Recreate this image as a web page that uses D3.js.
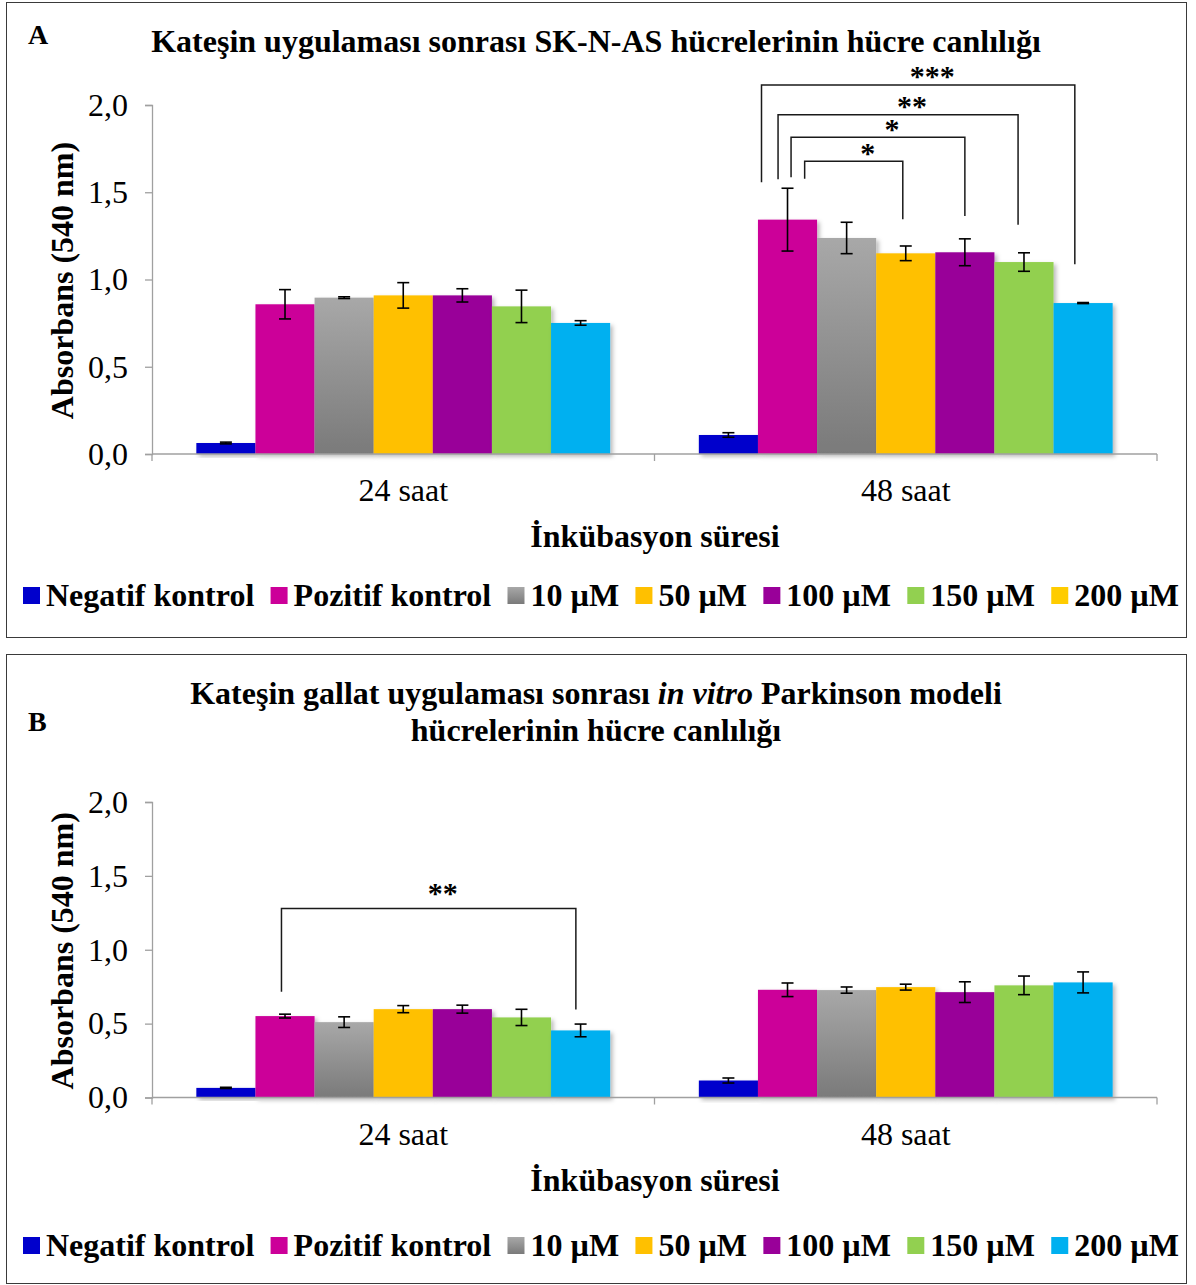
<!DOCTYPE html>
<html>
<head>
<meta charset="utf-8">
<script src="https://cdn.jsdelivr.net/npm/d3@7"></script>
<style>
  html, body { margin: 0; padding: 0; background: #fff; }
  svg { display: block; }
  text { font-family: "Liberation Serif", "Tinos", "Times New Roman", "DejaVu Serif", serif; fill: #000; }
</style>
</head>
<body>
<svg id="chart" width="1196" height="1285"></svg>
<script>
// ---- data ----
const groups = ["24 saat", "48 saat"];
const seriesNames = ["Negatif kontrol", "Pozitif kontrol", "10 µM", "50 µM", "100 µM", "150 µM", "200 µM"];
const seriesColors = ["#0000CC", "#CC0099", "url(#grayFill)", "#FFC000", "#990099", "#92D050", "#00B0F0"];
// panel A legend uses a yellow swatch for the last entry
const legendColorsA = ["#0000CC", "#CC0099", "url(#grayFill)", "#FFC000", "#990099", "#92D050", "#FFCC00"];
const legendColorsB = seriesColors;
const yTickValues = [0, 0.5, 1.0, 1.5, 2.0];
const yTickLabels = ["0,0", "0,5", "1,0", "1,5", "2,0"];

// absorbance means and error (per group, per series)
const meansA = [
  [0.063, 0.858, 0.896, 0.909, 0.909, 0.846, 0.751],
  [0.109, 1.343, 1.238, 1.150, 1.156, 1.100, 0.865]
];
const errA = [
  [0.005, 0.084, 0.005, 0.073, 0.038, 0.093, 0.013],
  [0.013, 0.180, 0.090, 0.042, 0.077, 0.053, 0.003]
];
const meansB = [
  [0.065, 0.551, 0.510, 0.598, 0.598, 0.542, 0.454],
  [0.115, 0.729, 0.727, 0.747, 0.713, 0.759, 0.779]
];
const errB = [
  [0.004, 0.013, 0.036, 0.024, 0.027, 0.055, 0.043],
  [0.017, 0.046, 0.021, 0.020, 0.070, 0.063, 0.071]
];

// significance brackets: group, series at each end (with offset inside the bar),
// level of the horizontal line and where each leg stops (data units)
const bracketsA = [
  { group: 1, from: 1, fromAt: 0.06, to: 6, toAt: 0.36, level: 2.115, fromDrop: 1.557, toDrop: 1.087, label: "***" },
  { group: 1, from: 1, fromAt: 0.34, to: 5, toAt: 0.40, level: 1.944, fromDrop: 1.574, toDrop: 1.314, label: "**" },
  { group: 1, from: 1, fromAt: 0.56, to: 4, toAt: 0.50, level: 1.815, fromDrop: 1.586, toDrop: 1.364, label: "*" },
  { group: 1, from: 1, fromAt: 0.79, to: 3, toAt: 0.45, level: 1.677, fromDrop: 1.578, toDrop: 1.345, label: "*" }
];
const bracketsB = [
  { group: 0, from: 1, fromAt: 0.44, to: 6, toAt: 0.42, level: 1.280, fromDrop: 0.716, toDrop: 0.596, label: "**" }
];

// ---- drawing ----
const svg = d3.select("#chart");
const defs = svg.append("defs");
const grad = defs.append("linearGradient").attr("id", "grayFill")
  .attr("x1", 0).attr("y1", 0).attr("x2", 0).attr("y2", 1);
grad.append("stop").attr("offset", "0%").attr("stop-color", "#A8A8A8");
grad.append("stop").attr("offset", "100%").attr("stop-color", "#7A7A7A");
const shadow = defs.append("filter").attr("id", "barShadow")
  .attr("x", "-20%").attr("y", "-20%").attr("width", "150%").attr("height", "150%");
shadow.append("feDropShadow").attr("dx", 2.5).attr("dy", 2.5)
  .attr("stdDeviation", 2).attr("flood-color", "#000").attr("flood-opacity", 0.28);

const FS = 32;
const STAR_FS = 30;
const axisColor = "#A0A0A0";

function drawPanel(cfg) {
  const g = svg.append("g");

  // frame
  g.append("rect")
    .attr("x", cfg.frame[0] + 0.5).attr("y", cfg.frame[1] + 0.5)
    .attr("width", cfg.frame[2]).attr("height", cfg.frame[3])
    .attr("fill", "none").attr("stroke", "#3A3A3A").attr("stroke-width", 1);

  // panel letter
  g.append("text").attr("x", 28).attr("y", cfg.letterY)
    .attr("font-size", 28).attr("font-weight", "bold").text(cfg.letter);

  // title lines
  cfg.titleLines.forEach((parts, i) => {
    const t = g.append("text").attr("x", 596).attr("y", cfg.titleY + i * 37)
      .attr("text-anchor", "middle").attr("font-size", FS).attr("font-weight", "bold");
    parts.forEach(p => {
      const s = t.append("tspan").text(p.text);
      if (p.italic) s.attr("font-style", "italic");
    });
  });

  const x0 = d3.scaleBand().domain(groups).range([152, 1157]).padding(0);
  const x1 = d3.scaleBand().domain(d3.range(seriesNames.length))
    .range([0, x0.bandwidth()]).paddingInner(0).paddingOuter(0.75);
  const y = d3.scaleLinear().domain([0, 2]).range([cfg.y0, cfg.y1]);

  // y axis
  const yAxis = g.append("g").attr("transform", "translate(152,0)")
    .call(d3.axisLeft(y).tickValues(yTickValues).tickSize(7).tickPadding(17)
      .tickFormat((d, i) => yTickLabels[i]));
  yAxis.attr("font-family", null);
  yAxis.select(".domain").attr("stroke", axisColor).attr("stroke-width", 1.3);
  yAxis.selectAll(".tick line").attr("stroke", axisColor).attr("stroke-width", 1.3);
  yAxis.selectAll(".tick text").attr("font-size", FS).attr("fill", "#000");

  // bars
  groups.forEach((grp, gi) => {
    const gg = g.append("g").attr("transform", `translate(${x0(grp)},0)`);
    gg.selectAll("rect.bar").data(cfg.means[gi]).join("rect")
      .attr("class", "bar")
      .attr("x", (d, i) => x1(i))
      .attr("width", x1.bandwidth())
      .attr("y", d => y(d))
      .attr("height", d => y(0) - y(d))
      .attr("fill", (d, i) => seriesColors[i])
      .attr("filter", "url(#barShadow)");

    // error bars
    const eb = gg.selectAll("g.err").data(cfg.means[gi].map((m, i) => ({ m, e: cfg.errs[gi][i], i })))
      .join("g").attr("class", "err")
      .attr("stroke", "#000").attr("stroke-width", 1.6);
    eb.append("line")
      .attr("x1", d => x1(d.i) + x1.bandwidth() / 2).attr("x2", d => x1(d.i) + x1.bandwidth() / 2)
      .attr("y1", d => y(d.m + d.e)).attr("y2", d => y(d.m - d.e));
    [1, -1].forEach(sgn => {
      eb.append("line")
        .attr("x1", d => x1(d.i) + x1.bandwidth() / 2 - 6).attr("x2", d => x1(d.i) + x1.bandwidth() / 2 + 6)
        .attr("y1", d => y(d.m + sgn * d.e)).attr("y2", d => y(d.m + sgn * d.e));
    });
  });

  // x axis: baseline and category boundary ticks
  g.append("line").attr("x1", 152).attr("x2", 1157).attr("y1", y(0)).attr("y2", y(0))
    .attr("stroke", axisColor).attr("stroke-width", 1.3);
  const bounds = [x0(groups[0])].concat(groups.map(d => x0(d) + x0.bandwidth()));
  g.selectAll("line.xtick").data(bounds).join("line").attr("class", "xtick")
    .attr("x1", d => d).attr("x2", d => d).attr("y1", y(0)).attr("y2", y(0) + 7)
    .attr("stroke", axisColor).attr("stroke-width", 1.3);
  g.selectAll("text.xlab").data(groups).join("text").attr("class", "xlab")
    .attr("x", d => x0(d) + x0.bandwidth() / 2).attr("y", y(0) + 47)
    .attr("text-anchor", "middle").attr("font-size", FS).text(d => d);

  // axis titles
  g.append("text").attr("x", 655).attr("y", y(0) + 93)
    .attr("text-anchor", "middle").attr("font-size", FS).attr("font-weight", "bold")
    .text("İnkübasyon süresi");
  g.append("text")
    .attr("transform", `translate(73,${(y(0) + y(2)) / 2 + 1}) rotate(-90)`)
    .attr("text-anchor", "middle").attr("font-size", FS).attr("font-weight", "bold")
    .text("Absorbans (540 nm)");

  // significance brackets
  cfg.brackets.forEach(b => {
    const gx = x0(groups[b.group]);
    const xa = gx + x1(b.from) + x1.bandwidth() * b.fromAt;
    const xb = gx + x1(b.to) + x1.bandwidth() * b.toAt;
    g.append("path")
      .attr("d", `M${xa},${y(b.fromDrop)}V${y(b.level)}H${xb}V${y(b.toDrop)}`)
      .attr("fill", "none").attr("stroke", "#1A1A1A").attr("stroke-width", 1.5);
    // the star glyph sits a little under half an em above its baseline
    g.append("text").attr("x", (xa + xb) / 2 + 14)
      .attr("y", y(b.level) - cfg.starLift + STAR_FS * 0.45)
      .attr("text-anchor", "middle").attr("font-size", STAR_FS).attr("font-weight", "bold")
      .text(b.label);
  });

  // legend
  const leg = g.append("g").attr("transform", `translate(23,${cfg.legendY})`);
  let lx = 0;
  seriesNames.forEach((name, i) => {
    leg.append("rect").attr("x", lx).attr("y", -19).attr("width", 17).attr("height", 17)
      .attr("fill", cfg.legendColors[i]);
    const t = leg.append("text").attr("x", lx + 23).attr("y", 0)
      .attr("font-size", FS).attr("font-weight", "bold").text(name);
    lx += 23 + t.node().getComputedTextLength() + 16.3;
  });
}

drawPanel({
  frame: [6, 2, 1180, 635], letter: "A", letterY: 44,
  titleLines: [[{ text: "Kateşin uygulaması sonrası SK-N-AS hücrelerinin hücre canlılığı" }]],
  titleY: 52,
  y0: 454, y1: 105,
  means: meansA, errs: errA, brackets: bracketsA, starLift: 12,
  legendColors: legendColorsA, legendY: 606
});

drawPanel({
  frame: [6, 654, 1180, 629], letter: "B", letterY: 731,
  titleLines: [
    [{ text: "Kateşin gallat uygulaması sonrası " }, { text: "in vitro", italic: true }, { text: " Parkinson modeli" }],
    [{ text: "hücrelerinin hücre canlılığı" }]
  ],
  titleY: 704,
  y0: 1097.5, y1: 802,
  means: meansB, errs: errB, brackets: bracketsB, starLift: 19,
  legendColors: legendColorsB, legendY: 1256
});
</script>
</body>
</html>
